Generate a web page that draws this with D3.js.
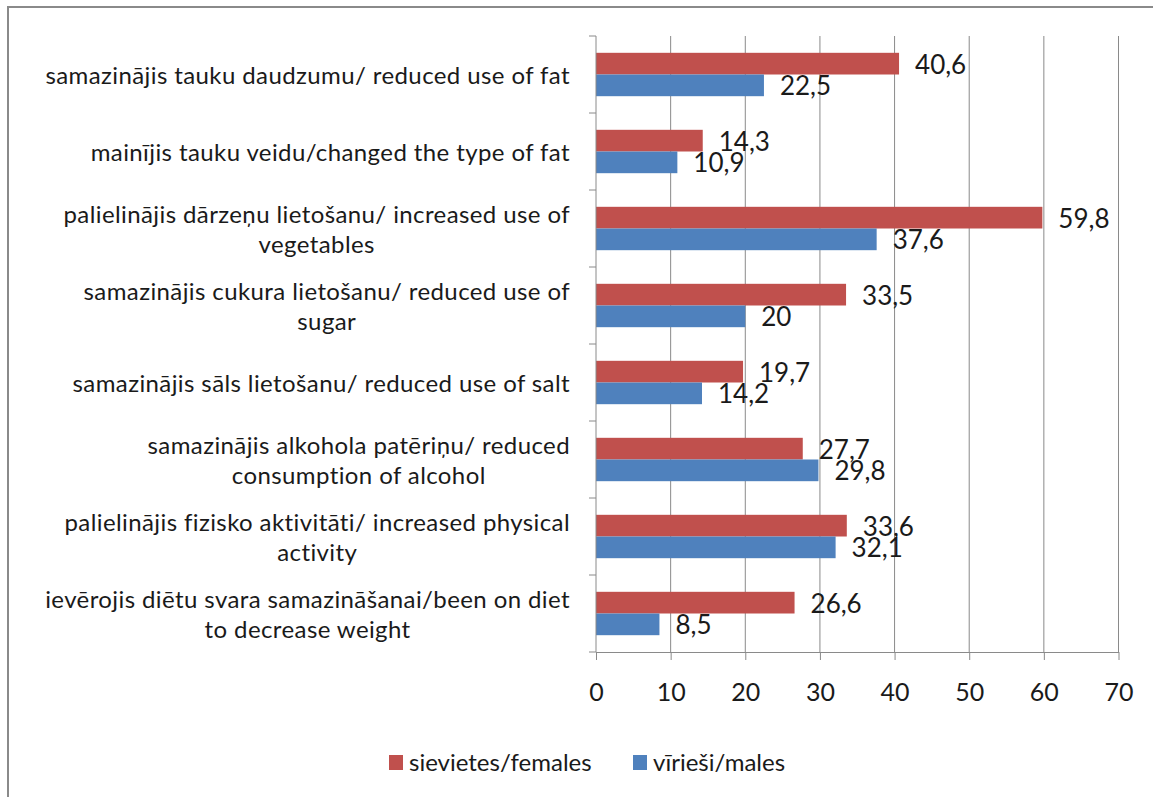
<!DOCTYPE html>
<html>
<head>
<meta charset="utf-8">
<script src="https://cdn.jsdelivr.net/npm/d3@7"></script>
<style>
  body { margin: 0; background: #fff; }
  text { font-family: Lato, "Open Sans", sans-serif; fill: #1a1a1a; }
</style>
</head>
<body>
<script>
// rows, top to bottom; "\n" marks where the label wraps
const categories = [
  "samazinājis tauku daudzumu/ reduced use of fat",
  "mainījis tauku veidu/changed the type of fat",
  "palielinājis dārzeņu lietošanu/ increased use of\nvegetables",
  "samazinājis cukura lietošanu/ reduced use of\nsugar",
  "samazinājis sāls lietošanu/ reduced use of salt",
  "samazinājis alkohola patēriņu/ reduced\nconsumption of alcohol",
  "palielinājis fizisko aktivitāti/ increased physical\nactivity",
  "ievērojis diētu svara samazināšanai/been on diet\nto decrease weight"
]
const females = [40.6, 14.3, 59.8, 33.5, 19.7, 27.7, 33.6, 26.6]
const males = [22.5, 10.9, 37.6, 20, 14.2, 29.8, 32.1, 8.5]
const seriesNames = ["sievietes/females", "vīrieši/males"]
const xTicks = [0, 10, 20, 30, 40, 50, 60, 70]

const colors = ["#C0504D", "#4F81BD"]
const width = 1153
const height = 797

const svg = d3.select("body").append("svg")
    .attr("width", width)
    .attr("height", height)

// outer frame (right and bottom edges fall outside the picture)
svg.append("rect")
    .attr("x", 8).attr("y", 7)
    .attr("width", 1200).attr("height", 850)
    .attr("fill", "#fff")
    .attr("stroke", "#8a8a8a")
    .attr("stroke-width", 2)

const x = d3.scaleLinear().domain([0, 70]).range([596, 1118.5])
const y = d3.scaleBand().domain(d3.range(categories.length)).range([36, 652])
const inner = d3.scaleBand().domain([0, 1]).range([0, y.bandwidth()]).paddingOuter(0.775)

// vertical gridlines
svg.append("g").selectAll("line")
    .data(xTicks.slice(1))
    .enter().append("line")
    .attr("x1", d => x(d)).attr("x2", d => x(d))
    .attr("y1", 36).attr("y2", 652)
    .attr("stroke", "#8a8a8a")

// bars
const rows = categories.map((c, i) => ({ i: i, values: [females[i], males[i]] }))
const groups = svg.append("g").selectAll("g")
    .data(rows)
    .enter().append("g")
    .attr("transform", d => "translate(0," + y(d.i) + ")")

groups.selectAll("rect")
    .data(d => d.values.map((v, s) => ({ v: v, s: s })))
    .enter().append("rect")
    .attr("x", x(0))
    .attr("y", d => inner(d.s))
    .attr("width", d => x(d.v) - x(0))
    .attr("height", inner.bandwidth())
    .attr("fill", d => colors[d.s])

groups.selectAll("text.val")
    .data(d => d.values.map((v, s) => ({ v: v, s: s })))
    .enter().append("text")
    .attr("class", "val")
    .attr("x", d => x(d.v) + 16)
    .attr("y", d => inner(d.s) + inner.bandwidth() / 2 + 10)
    .style("font-size", "26px")
    .text(d => String(d.v).replace(".", ","))

// x axis
const xAxis = svg.append("g")
    .attr("transform", "translate(0,652)")
    .call(d3.axisBottom(x).tickValues(xTicks).tickSize(8).tickPadding(23).tickSizeOuter(0))
xAxis.select(".domain").attr("stroke", "#8a8a8a")
xAxis.selectAll(".tick line").attr("stroke", "#8a8a8a")
xAxis.selectAll(".tick text")
    .style("font-size", "25px")
    .style("font-family", "Lato, sans-serif")
    .attr("fill", "#1a1a1a")

// y axis line with ticks at row boundaries
svg.append("line")
    .attr("x1", x(0)).attr("x2", x(0))
    .attr("y1", 36).attr("y2", 652)
    .attr("stroke", "#8a8a8a")
svg.append("g").selectAll("line")
    .data(d3.range(categories.length + 1))
    .enter().append("line")
    .attr("x1", x(0) - 7).attr("x2", x(0))
    .attr("y1", d => 36 + d * y.step()).attr("y2", d => 36 + d * y.step())
    .attr("stroke", "#8a8a8a")

// category labels: block right-aligned, lines centered inside it
categories.forEach((c, i) => {
    const lines = c.split("\n")
    const t = svg.append("text")
        .attr("text-anchor", "middle")
        .style("font-size", "24px")
        .style("letter-spacing", "0.4px")
    const spans = lines.map((line, k) => t.append("tspan")
        .attr("y", y(i) + y.bandwidth() / 2 + 9 + (k - (lines.length - 1) / 2) * 30)
        .text(line))
    const w = d3.max(spans, s => s.node().getComputedTextLength())
    spans.forEach(s => s.attr("x", 570 - w / 2))
})

// legend
const legendX = [389, 633]
seriesNames.forEach((name, s) => {
    svg.append("rect")
        .attr("x", legendX[s]).attr("y", 755)
        .attr("width", 14).attr("height", 15)
        .attr("fill", colors[s])
    svg.append("text")
        .attr("x", legendX[s] + 20).attr("y", 771)
        .style("font-size", "24px")
        .text(name)
})
</script>
</body>
</html>
